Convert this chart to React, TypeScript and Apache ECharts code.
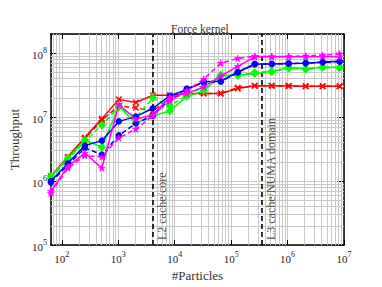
import React, { useEffect, useRef } from "react";
import * as echarts from "echarts";

// #Particles (powers of two)
const particles = [
  64, 128, 256, 512, 1024, 2048, 4096, 8192, 16384, 32768, 65536, 131072,
  262144, 524288, 1048576, 2097152, 4194304, 8388608,
];

// Throughput series
const redSolid = [1.2e6, 2.4e6, 4.8e6, 9.5e6, 1.9e7, 1.7e7, 2.2e7, 2.2e7, 2.35e7, 2.35e7, 2.35e7, 2.8e7, 3.1e7, 3.1e7, 3.1e7, 3.05e7, 3.05e7, 3.05e7];
const redDashed = [1.15e6, 2.3e6, 4.6e6, 9.0e6, 1.5e7, 1.4e7, 1.25e7, 2.0e7, 2.3e7, 2.35e7, 2.35e7, 2.9e7, 3.1e7, 3.1e7, 3.05e7, 3.05e7, 3.05e7, 3.05e7];
const greenSolid = [1.2e6, 2.3e6, 4.4e6, 3.4e6, 1.5e7, 8.0e6, 1.05e7, 1.25e7, 2.1e7, 2.6e7, 4.4e7, 4.6e7, 4.8e7, 5.2e7, 6.0e7, 5.7e7, 6.1e7, 6.0e7];
const greenDashed = [1.1e6, 2.2e6, 4.2e6, 7.5e6, 1.45e7, 1.0e7, 2.0e7, 1.5e7, 2.2e7, 3.0e7, 4.6e7, 4.5e7, 5.0e7, 5.2e7, 5.8e7, 5.6e7, 6.0e7, 6.0e7];
const blueSolid = [1.0e6, 1.9e6, 3.6e6, 4.3e6, 8.6e6, 1.02e7, 1.38e7, 2.16e7, 2.7e7, 3.6e7, 3.65e7, 5.1e7, 6.8e7, 6.8e7, 6.9e7, 7.0e7, 7.3e7, 7.5e7];
const blueDashed = [9.5e5, 1.8e6, 3.3e6, 2.6e6, 5.2e6, 8.0e6, 1.06e7, 1.9e7, 2.8e7, 3.5e7, 3.6e7, 5.0e7, 6.7e7, 6.8e7, 6.9e7, 7.0e7, 7.2e7, 7.4e7];
const magentaSolid = [7.0e5, 1.7e6, 2.75e6, 1.6e6, 1.58e7, 9.3e6, 1.09e7, 2.06e7, 2.36e7, 2.97e7, 4.4e7, 6.25e7, 8.8e7, 8.8e7, 8.8e7, 8.8e7, 8.8e7, 8.8e7];
const magentaDashed = [6.5e5, 1.6e6, 2.5e6, 2.4e6, 4.75e6, 6.5e6, 1.05e7, 1.8e7, 2.6e7, 3.95e7, 7.0e7, 8.3e7, 9.0e7, 8.9e7, 8.9e7, 9.1e7, 9.3e7, 9.8e7];

// Vertical cache-size markers
const cachePositions = [4096, 350000];
const cacheLabels = ["L2 cache/core", "L3 cache/NUMA domain"];
const cacheLabelBase = 1.2e5; // throughput level where the rotated labels start

// Minor grid lines (log axes)
const xMinorGrid = [
  70, 80, 90, 200, 300, 400, 500, 600, 700, 800, 900, 2000, 3000, 4000, 5000,
  6000, 7000, 8000, 9000, 20000, 30000, 40000, 50000, 60000, 70000, 80000,
  90000, 200000, 300000, 400000, 500000, 600000, 700000, 800000, 900000,
  2000000, 3000000, 4000000, 5000000, 6000000, 7000000, 8000000, 9000000,
];
const yMinorGrid = [
  2e5, 3e5, 4e5, 5e5, 6e5, 7e5, 8e5, 9e5, 2e6, 3e6, 4e6, 5e6, 6e6, 7e6, 8e6,
  9e6, 2e7, 3e7, 4e7, 5e7, 6e7, 7e7, 8e7, 9e7,
];

const X_MIN = 64;
const X_MAX = 1e7;
const Y_MIN = 1e5;
const Y_MAX = 2e8;

const FONT = '"Liberation Serif", "DejaVu Serif", serif';
const X_PATH =
  "path://M0,1.3 L1.3,0 L5,3.7 L8.7,0 L10,1.3 L6.3,5 L10,8.7 L8.7,10 L5,6.3 L1.3,10 L0,8.7 L3.7,5 Z";
const STAR_PATH =
  "path://M5,0 L6.2,3.6 L10,3.6 L6.9,5.8 L8.1,9.5 L5,7.2 L1.9,9.5 L3.1,5.8 L0,3.6 L3.8,3.6 Z";

const seriesDefs = [
  { name: "red solid", values: redSolid, color: "#ff0000", dashed: false, symbol: X_PATH, size: 6 },
  { name: "red dashed", values: redDashed, color: "#ff0000", dashed: true, symbol: X_PATH, size: 6 },
  { name: "green solid", values: greenSolid, color: "#00ff00", dashed: false, symbol: "diamond", size: 8 },
  { name: "green dashed", values: greenDashed, color: "#00ff00", dashed: true, symbol: "diamond", size: 8 },
  { name: "blue solid", values: blueSolid, color: "#0000ff", dashed: false, symbol: "circle", size: 6 },
  { name: "blue dashed", values: blueDashed, color: "#0000ff", dashed: true, symbol: "circle", size: 6 },
  { name: "magenta solid", values: magentaSolid, color: "#ff00ff", dashed: false, symbol: STAR_PATH, size: 7 },
  { name: "magenta dashed", values: magentaDashed, color: "#ff00ff", dashed: true, symbol: STAR_PATH, size: 7 },
];

const supFormatter = (v: number) => {
  const e = Math.round(Math.log10(v));
  return "{b|10}{s|" + e + "}";
};
const labelRich = {
  b: { fontSize: 11, fontFamily: FONT, color: "#222", verticalAlign: "bottom" },
  s: { fontSize: 8, fontFamily: FONT, color: "#222", verticalAlign: "bottom", padding: [0, 0, 6, 0] },
};

export default function App() {
  const ref = useRef<HTMLDivElement>(null);

  useEffect(() => {
    if (!ref.current) return;
    const chart = echarts.init(ref.current, undefined, { renderer: "svg" });

    const axisLine = { show: true, lineStyle: { color: "#000", width: 1.5 } };
    const axisTick = { show: true, inside: true, length: 5, lineStyle: { color: "#000", width: 1 } };

    const series: any[] = seriesDefs.map((d, i) => ({
      name: d.name,
      type: "line",
      data: particles.map((p, k) => [p, d.values[k]]),
      symbol: d.symbol,
      symbolSize: d.size,
      showAllSymbol: true,
      z: 2 + i * 0.1,
      lineStyle: { color: d.color, width: 1.5, type: d.dashed ? [5, 3] : "solid" },
      itemStyle: { color: d.color, borderColor: d.color, borderWidth: 0.5 },
      emphasis: { disabled: true },
    }));

    series[0].markLine = {
      silent: true,
      symbol: "none",
      z: 1,
      animation: false,
      label: { show: false },
      lineStyle: { color: "#c8c8c8", width: 1, type: "solid" },
      data: [
        ...xMinorGrid.map((v) => ({ xAxis: v })),
        ...yMinorGrid.map((v) => ({ yAxis: v })),
      ],
    };

    series[1].markLine = {
      silent: true,
      symbol: "none",
      z: 1.5,
      animation: false,
      lineStyle: { color: "#000", width: 1.6, type: [5, 3] },
      label: { show: false },
      data: cachePositions.map((v) => ({ xAxis: v })),
    };

    // Rotated labels for the cache lines, anchored at the line through the axes
    series.push({
      name: "cache labels",
      type: "scatter",
      silent: true,
      symbol: "circle",
      symbolSize: 0,
      z: 3,
      data: cachePositions.map((v, i) => ({ value: [v, cacheLabelBase], name: cacheLabels[i] })),
      label: {
        show: true,
        formatter: "{b}",
        position: [3, 0],
        rotate: 90,
        align: "left",
        verticalAlign: "top",
        fontFamily: FONT,
        fontSize: 12,
        color: "#222",
      },
      emphasis: { disabled: true },
    });

    chart.setOption({
      animation: false,
      backgroundColor: "#ffffff",
      title: {
        text: "Force kernel",
        left: 166,
        top: 18,
        textStyle: { fontFamily: FONT, fontSize: 11.5, fontWeight: "normal", color: "#333" },
      },
      grid: { left: 47, right: 38, top: 34, bottom: 31, containLabel: false },
      xAxis: [
        {
          type: "log",
          logBase: 10,
          min: X_MIN,
          max: X_MAX,
          axisLine,
          axisTick,
          axisLabel: {
            showMinLabel: false,
            formatter: supFormatter,
            rich: labelRich,
            margin: 5,
          },
          splitLine: { show: true, lineStyle: { color: "#c8c8c8", width: 1 } },
          name: "#Particles",
          nameLocation: "middle",
          nameGap: 17,
          nameTextStyle: { fontFamily: FONT, fontSize: 13, color: "#333" },
        },
        {
          type: "log",
          logBase: 10,
          min: X_MIN,
          max: X_MAX,
          position: "top",
          axisLine,
          axisTick,
          axisLabel: { show: false },
          splitLine: { show: false },
        },
      ],
      yAxis: [
        {
          type: "log",
          logBase: 10,
          min: Y_MIN,
          max: Y_MAX,
          axisLine,
          axisTick,
          axisLabel: {
            showMaxLabel: false,
            formatter: supFormatter,
            rich: labelRich,
            margin: 4,
          },
          splitLine: { show: true, lineStyle: { color: "#c8c8c8", width: 1 } },
          name: "Throughput",
          nameLocation: "middle",
          nameGap: 17,
          nameTextStyle: { fontFamily: FONT, fontSize: 13, color: "#333" },
        },
        {
          type: "log",
          logBase: 10,
          min: Y_MIN,
          max: Y_MAX,
          position: "right",
          axisLine,
          axisTick,
          axisLabel: { show: false },
          splitLine: { show: false },
        },
      ],
      series,
    });

    return () => chart.dispose();
  }, []);

  return (
    <div
      ref={ref}
      style={{ position: "fixed", left: 0, top: 0, width: 382, height: 287, background: "#fff" }}
    />
  );
}
